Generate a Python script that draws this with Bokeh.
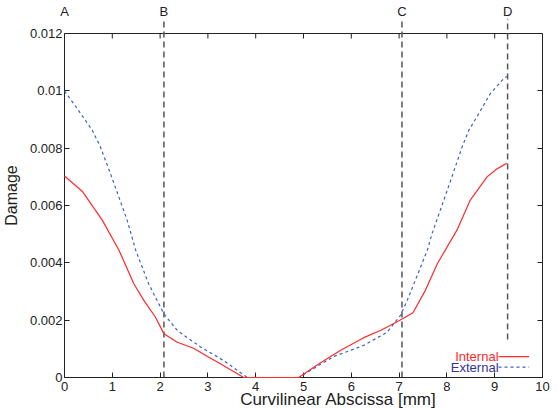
from bokeh.plotting import figure
from bokeh.models import LinearAxis, FixedTicker, Range1d, Label
from bokeh.embed import file_html
from bokeh.resources import INLINE

# ---- data ----
internal_x = [0, 0.37, 0.79, 1.14, 1.45, 1.66, 1.9, 2.08, 2.36, 2.7, 3.02, 3.26, 3.75,
              4.0, 4.5, 4.9, 5.3, 5.77, 6.26, 6.61, 6.99, 7.29, 7.55, 7.8, 8.21, 8.49,
              8.84, 9.05, 9.25]
internal_y = [0.00703, 0.0065, 0.00549, 0.00444, 0.00327, 0.00269, 0.00211, 0.00153,
              0.00123, 0.00102, 0.00071, 0.00048, 0.0, 0.0, 0.0, 0.0, 0.00045, 0.00094,
              0.00139, 0.00164, 0.00197, 0.00226, 0.00304, 0.00397, 0.00514, 0.00619,
              0.007, 0.00728, 0.00747]
external_x = [0, 0.3, 0.58, 0.75, 0.96, 1.31, 1.49, 1.76, 2.08, 2.36, 2.85, 3.33, 3.82,
              4.3, 4.9, 5.2, 5.63, 6.26, 6.75, 7.03, 7.17, 7.38, 7.59, 7.69, 8.08, 8.32,
              8.46, 8.63, 8.91, 9.18, 9.25]
external_y = [0.0100, 0.0093, 0.00863, 0.00805, 0.00712, 0.00549, 0.00444, 0.00327,
              0.00222, 0.00164, 0.00106, 0.00059, 0.0, 0.0, 0.0, 0.0003, 0.00073, 0.00112,
              0.00158, 0.00217, 0.00269, 0.00356, 0.00444, 0.00502, 0.00688, 0.00805,
              0.00863, 0.0091, 0.00991, 0.01041, 0.0105]

section_names = ["A", "B", "C", "D"]
section_x = [0.0, 2.08, 7.06, 9.27]
line_x = [2.08, 7.06, 9.27]
line_bottom = [0.0, 0.0, 0.00133]

x_ticks = [0, 1, 2, 3, 4, 5, 6, 7, 8, 9, 10]
y_ticks = [0, 0.002, 0.004, 0.006, 0.008, 0.01, 0.012]
y_tick_labels = ["0", "0.002", "0.004", "0.006", "0.008", "0.01", "0.012"]
y_max = 0.012
y_view_top = 0.012524   # a little room above the box for the section lines

x_title = "Curvilinear Abscissa [mm]"
x_title_pos = 5.73
y_title = "Damage"
y_title_pos = 0.00635

series_names = ["Internal", "External"]

FONT = "Liberation Sans"
RED = "#ff2a2a"
BLUE = "#3a62c4"
AXC = "#222222"

p = figure(frame_width=478, frame_height=359,
           x_range=Range1d(0, 10), y_range=Range1d(0, y_view_top),
           output_backend="svg", toolbar_location=None,
           min_border_left=64, min_border_right=15, min_border_top=18, min_border_bottom=32)
p.grid.visible = False
p.outline_line_color = None
p.background_fill_color = "white"


def style_axis(ax):
    ax.major_tick_in = 5
    ax.major_tick_out = 0
    ax.minor_tick_line_color = None
    ax.axis_line_color = AXC
    ax.major_tick_line_color = AXC
    ax.major_label_text_font = FONT
    ax.major_label_text_font_size = "13px"
    ax.major_label_text_color = "#222222"


def title_axis(ax, ticks, text, size):
    ax.ticker = FixedTicker(ticks=ticks)
    ax.major_label_overrides = {ticks[0]: text}
    ax.major_tick_line_color = None
    ax.minor_tick_line_color = None
    ax.axis_line_color = None
    ax.major_label_text_font = FONT
    ax.major_label_text_font_size = size
    ax.major_label_text_color = "#222222"


# bottom axis
xa = p.xaxis[0]
xa.ticker = FixedTicker(ticks=x_ticks)
style_axis(xa)
xa.major_label_standoff = 4

# bottom title as a second axis
xt = LinearAxis()
title_axis(xt, [x_title_pos], x_title, "17px")
xt.major_label_standoff = -10
p.add_layout(xt, "below")

# left axis
ya = p.yaxis[0]
ya.ticker = FixedTicker(ticks=y_ticks)
ya.major_label_overrides = {t: l for t, l in zip(y_ticks, y_tick_labels)}
style_axis(ya)
ya.bounds = (0, y_max)
ya.major_label_standoff = 2

# left title as a second axis
yt = LinearAxis()
title_axis(yt, [y_title_pos], y_title, "16px")
yt.major_label_orientation = "vertical"
yt.major_label_standoff = 0
p.add_layout(yt, "left")

# right axis (ticks only)
ra = LinearAxis(ticker=FixedTicker(ticks=y_ticks))
style_axis(ra)
ra.bounds = (0, y_max)
ra.major_label_overrides = {t: "" for t in y_ticks}
ra.major_label_text_color = None
ra.major_label_standoff = 0
p.add_layout(ra, "right")

# top axis carrying the section letters
ta = LinearAxis(ticker=FixedTicker(ticks=section_x))
style_axis(ta)
ta.major_label_overrides = {t: n for t, n in zip(section_x, section_names)}
ta.major_tick_in = 0
ta.major_tick_line_color = None
ta.axis_line_color = None
ta.major_label_standoff = 0
p.add_layout(ta, "above")

# top border of the box with inward ticks
p.line([x_ticks[0], x_ticks[-1]], [y_max, y_max], line_color=AXC, line_width=1)
tick_len = 5.0 / 359 * y_view_top
p.segment(x0=x_ticks, y0=[y_max] * len(x_ticks), x1=x_ticks,
          y1=[y_max - tick_len] * len(x_ticks), line_color=AXC, line_width=1)

# section lines
p.segment(x0=line_x, y0=line_bottom, x1=line_x, y1=[y_view_top] * len(line_x),
          line_color="#555555", line_width=1.5, line_dash="6 4")

# curves
r1 = p.line(external_x, external_y, line_color=BLUE, line_width=1.2, line_dash="3 3")
r2 = p.line(internal_x, internal_y, line_color=RED, line_width=1.2)
r1.level = "overlay"
r2.level = "overlay"

# legend (text left of the sample line)
leg_y = [0.00073, 0.00036]
leg_col = [RED, "#333399"]
leg_dash = ["solid", "3 3"]
line_col = [RED, BLUE]
for name, ly, tc, ld, lc in zip(series_names, leg_y, leg_col, leg_dash, line_col):
    p.add_layout(Label(x=9.08, y=ly, text=name, text_align="right", text_baseline="middle",
                       text_font=FONT, text_font_size="13px", text_color=tc))
    p.line([9.08, 9.72], [ly, ly], line_color=lc, line_width=1.2, line_dash=ld)

open("out.html", "w").write(file_html(p, INLINE))
